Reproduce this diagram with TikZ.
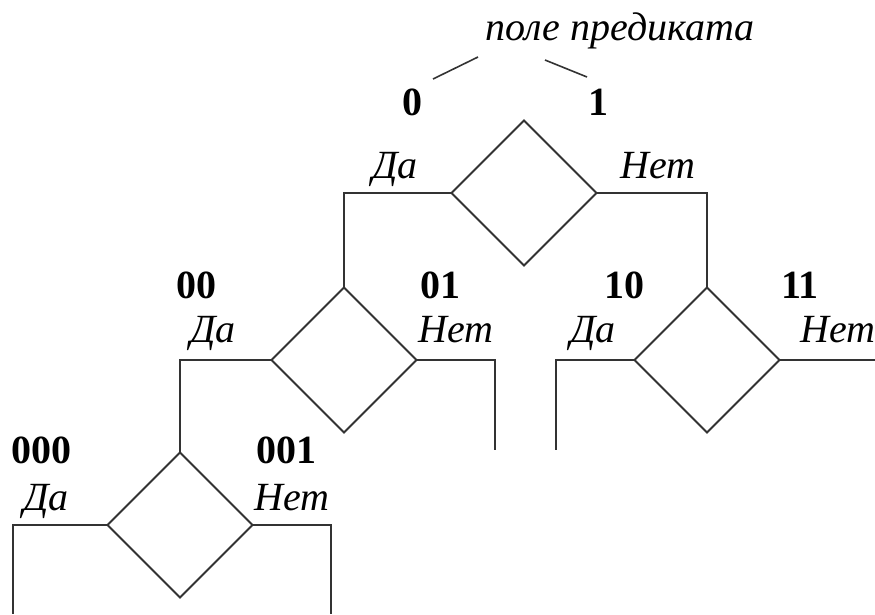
\documentclass[tikz,border=0pt]{standalone}
\usepackage{fontspec}
\setmainfont{Liberation Serif}
\usetikzlibrary{shapes.geometric}
\begin{document}
\begin{tikzpicture}[x=1pt,y=-1pt,
  line/.style={draw=black!80,line width=2pt},
  dia/.style={diamond,draw=black!80,line width=2pt,minimum width=145pt,minimum height=145pt,inner sep=0pt,outer sep=0pt,aspect=1},
  bit/.style={anchor=base,inner sep=0pt,font=\fontsize{40}{44}\selectfont\bfseries},
  ans/.style={anchor=base,inner sep=0pt,font=\fontsize{40}{44}\selectfont\itshape},
  ttl/.style={anchor=base,inner sep=0pt,font=\fontsize{40}{44}\selectfont\itshape}]
\useasboundingbox (0,0) rectangle (875,614);
% diamonds
\node[dia] (d0) at (524,193) {};
\node[dia] (d1) at (344,360) {};
\node[dia] (d2) at (707,360) {};
\node[dia] (d3) at (180,525) {};
% free ends
\coordinate (e1) at (495,450);
\coordinate (e2) at (556,450);
\coordinate (e3) at (875,360);
\coordinate (e4) at (13,614);
\coordinate (e5) at (331,614);
% connectors
\draw[line] (d0.west) -| (d1.north);
\draw[line] (d0.east) -| (d2.north);
\draw[line] (d1.west) -| (d3.north);
\draw[line] (d1.east) -| (e1);
\draw[line] (d2.west) -| (e2);
\draw[line] (d2.east) -- (e3);
\draw[line] (d3.west) -| (e4);
\draw[line] (d3.east) -| (e5);
% title
\node[ttl] (t) at (620,40) {поле предиката};
\coordinate (t0a) at (478,57);
\coordinate (t0b) at (433,79);
\coordinate (t1a) at (545,60);
\coordinate (t1b) at (587,77);
\draw[line,line width=1.6pt] (t0a) -- (t0b);
\draw[line,line width=1.6pt] (t1a) -- (t1b);
% bit labels
\node[bit] (b0) at (412,115) {0};
\node[bit] (b1) at (598,115) {1};
\node[bit] (b00) at (196,298) {00};
\node[bit] (b01) at (440,298) {01};
\node[bit] (b10) at (624,298) {10};
\node[bit] (b11) at (800,298) {11};
\node[bit] (b000) at (42,463) {000};
\node[bit] (b001) at (286,463) {001};
% answers
\node[ans] (y0) at (395,178) {Да};
\node[ans] (n0) at (658,178) {Нет};
\node[ans] (y1) at (213,342) {Да};
\node[ans] (n1) at (456,342) {Нет};
\node[ans] (y2) at (593,342) {Да};
\node[ans] (n2) at (838,342) {Нет};
\node[ans] (y3) at (46,510) {Да};
\node[ans] (n3) at (292,510) {Нет};
\end{tikzpicture}
\end{document}
